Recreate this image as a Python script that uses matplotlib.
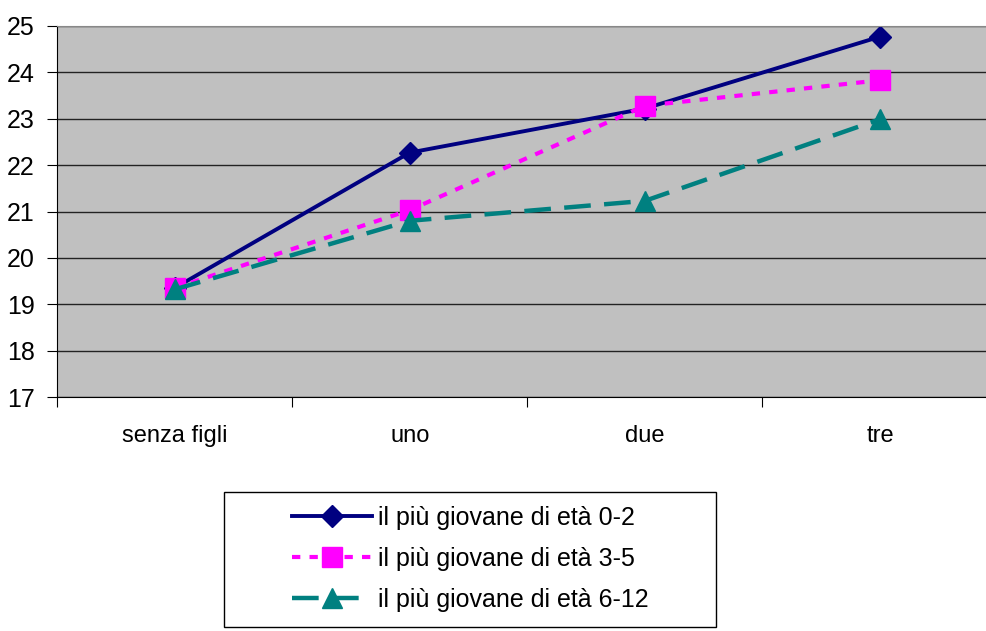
import matplotlib.pyplot as plt
from matplotlib.patches import Rectangle

plt.rcParams['font.family'] = ['Liberation Sans', 'DejaVu Sans']

categories = ['senza figli', 'uno', 'due', 'tre']
eta_0_2 = [19.35, 22.27, 23.22, 24.77]
eta_3_5 = [19.35, 21.03, 23.28, 23.83]
eta_6_12 = [19.32, 20.8, 21.23, 22.99]
labels = ['il più giovane di età 0-2', 'il più giovane di età 3-5', 'il più giovane di età 6-12']

fig = plt.figure(figsize=(9.86, 6.31), dpi=100)
ax = fig.add_axes([0.0578, 0.3708, 0.954, 0.588])
ax.set_facecolor('#c0c0c0')

x = range(len(categories))
ax.plot(x, eta_0_2, color='#000080', lw=2.8, marker='D', markersize=11, label=labels[0])
ax.plot(x, eta_3_5, color='#ff00ff', lw=3, linestyle=(0, (2, 2.2)), marker='s', markersize=14, label=labels[1])
ax.plot(x, eta_6_12, color='#008080', lw=3.2, linestyle=(0, (6, 3)), marker='^', markersize=15, label=labels[2])

ax.set_xlim(-0.5, 3.5)
ax.set_ylim(17, 25)
ax.set_yticks(range(17, 26))
ax.yaxis.grid(True, color='#222222', lw=1)
ax.set_axisbelow(True)

# category labels centered, tick marks between categories
ax.set_xticks([-0.5, 0.5, 1.5, 2.5, 3.5])
ax.set_xticklabels([])
ax.set_xticks(list(x), minor=True)
ax.set_xticklabels(categories, minor=True, fontsize=17)
ax.tick_params(axis='x', which='major', length=7, direction='out', color='black')
ax.tick_params(axis='x', which='minor', length=0, pad=20)
ax.tick_params(axis='y', length=7, labelsize=18, pad=9)

ax.spines['right'].set_visible(False)
ax.spines['top'].set_color('#888888')
ax.spines['left'].set_color('black')
ax.spines['bottom'].set_color('black')

# legend box drawn separately, bigger than its content like the original
fig.patches.append(Rectangle((0.2272, 0.0063), 0.499, 0.214, transform=fig.transFigure,
                             facecolor='white', edgecolor='black', lw=1))
leg = fig.legend(loc='center left', bbox_to_anchor=(0.296, 0.114), fontsize=18,
                 frameon=False, handlelength=3.2, borderpad=0, borderaxespad=0,
                 labelspacing=0.68, handletextpad=0.25)

fig.savefig('out.png', dpi=100)
